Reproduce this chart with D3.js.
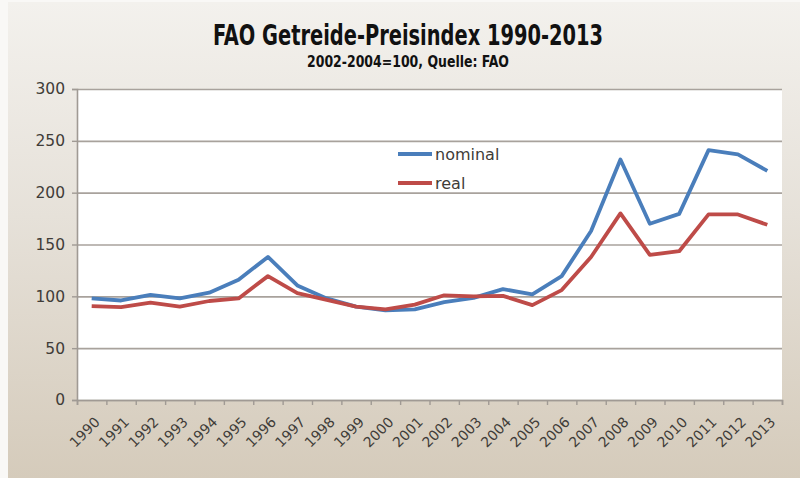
<!DOCTYPE html>
<html>
<head>
<meta charset="utf-8">
<script src="https://cdn.jsdelivr.net/npm/d3@7"></script>
<style>
body { margin: 0; background: #ffffff; }
svg { display: block; }
</style>
</head>
<body>
<div id="divcont"></div>
<script>
var years = ["1990","1991","1992","1993","1994","1995","1996","1997","1998","1999","2000","2001",
  "2002","2003","2004","2005","2006","2007","2008","2009","2010","2011","2012","2013"]
var nominal = [98, 96, 101.5, 98, 103.5, 116, 138, 110.5, 98, 90, 86.5, 87.5,
  94.5, 98.5, 107, 102, 119.5, 163, 232, 170, 179.5, 241, 237, 221]
var real = [90.5, 89.5, 94, 90, 95.5, 98, 119.5, 103, 96.5, 90, 87.5, 92,
  101, 100, 100.5, 91.5, 106, 138, 180, 140, 143.5, 179, 179, 169]
var yTicks = [0, 50, 100, 150, 200, 250, 300]
var seriesNames = ["nominal", "real"]
var seriesCols = ["#4a7ebb", "#be4b48"]

var wd = 800
var ht = 478
var pLeft = 77, pRight = 782, pTop = 89, pBottom = 400 // plot area

var svg = d3.select("#divcont")
  .append("svg")
  .attr("width", wd)
  .attr("height", ht)

var defs = svg.append("defs")
var grad = defs.append("linearGradient")
  .attr("id", "bg")
  .attr("x1", 0).attr("y1", 0).attr("x2", 0).attr("y2", 1)
grad.append("stop").attr("offset", "0%").attr("stop-color", "#f3f1ed")
grad.append("stop").attr("offset", "45%").attr("stop-color", "#e6e1d9")
grad.append("stop").attr("offset", "100%").attr("stop-color", "#d5cbbb")

svg.append("rect")
  .attr("width", wd).attr("height", ht)
  .attr("fill", "#f9f8f6")
svg.append("rect")
  .attr("x", 8).attr("y", 2)
  .attr("width", wd - 8).attr("height", ht - 2)
  .attr("fill", "url(#bg)")

// plot area
svg.append("rect")
  .attr("x", pLeft).attr("y", pTop)
  .attr("width", pRight - pLeft).attr("height", pBottom - pTop)
  .attr("fill", "#ffffff")

var xBand = d3.scaleBand()
  .domain(years)
  .range([pLeft, pRight])

var xEdge = d3.scaleLinear()
  .domain([0, years.length])
  .range([pLeft, pRight])

var yScale = d3.scaleLinear()
  .domain([0, 300])
  .range([pBottom, pTop])

// gridlines
svg.append("g")
  .attr("class", "grid")
  .attr("transform", "translate(" + pLeft + ",0)")
  .call(d3.axisLeft(yScale).tickValues(yTicks).tickSize(-(pRight - pLeft)).tickFormat(""))
  .call(function(g) { g.select(".domain").remove() })
  .selectAll("line")
  .attr("stroke", "#a8a29c")
  .attr("stroke-width", 1.6)

// y axis
var yAx = svg.append("g")
  .attr("class", "axis y_axis")
  .attr("transform", "translate(" + pLeft + ",0)")
  .call(d3.axisLeft(yScale).tickValues(yTicks).tickSize(5).tickPadding(7))
yAx.select(".domain").attr("stroke", "#a09a94").attr("stroke-width", 1.6)
yAx.selectAll("line").attr("stroke", "#a09a94").attr("stroke-width", 1.4)
yAx.selectAll("text")
  .style("font-family", "'DejaVu Sans', sans-serif")
  .style("font-size", "15.5px")
  .attr("fill", "#403c38")

// x axis tick marks at category edges
var xTk = svg.append("g")
  .attr("class", "axis x_ticks")
  .attr("transform", "translate(0," + pBottom + ")")
  .call(d3.axisBottom(xEdge).ticks(years.length).tickSize(5).tickFormat(""))
xTk.select(".domain").attr("stroke", "#a09a94").attr("stroke-width", 1.6)
xTk.selectAll("line").attr("stroke", "#a09a94").attr("stroke-width", 1.4)

// x axis labels
var xAx = svg.append("g")
  .attr("class", "axis x_axis")
  .attr("transform", "translate(0," + pBottom + ")")
  .call(d3.axisBottom(xBand).tickSize(0).tickPadding(0))
xAx.select(".domain").remove()
xAx.selectAll("text")
  .style("font-family", "'DejaVu Sans', sans-serif")
  .style("font-size", "14px")
  .attr("fill", "#403c38")
  .attr("text-anchor", "end")
  .attr("dy", 0)
  .attr("y", 0)
  .attr("transform", "translate(9,23) rotate(-45)")

// lines
var line = d3.line()
  .x(function(d, i) { return xBand(years[i]) + xBand.bandwidth() / 2 })
  .y(function(d) { return yScale(d) })

var series = [nominal, real]
series.forEach(function(s, j) {
  svg.append("path")
    .datum(s)
    .attr("fill", "none")
    .attr("stroke", seriesCols[j])
    .attr("stroke-width", 3.8)
    .attr("stroke-linejoin", "round")
    .attr("d", line)
})

// legend
var leg = svg.selectAll(".leg")
  .data(seriesNames)
  .enter()
  .append("g")
  .attr("class", "leg")
  .attr("transform", function(d, i) { return "translate(398," + (154 + i * 29) + ")" })
leg.append("line")
  .attr("x1", 0).attr("x2", 34)
  .attr("stroke", function(d, i) { return seriesCols[i] })
  .attr("stroke-width", 3.8)
leg.append("text")
  .attr("x", 37)
  .attr("dy", "0.35em")
  .text(function(d) { return d })
  .style("font-family", "'DejaVu Sans', sans-serif")
  .style("font-size", "16px")
  .attr("fill", "#403c38")

// titles
svg.append("text")
  .attr("x", 408).attr("y", 45)
  .attr("text-anchor", "middle")
  .attr("textLength", 390)
  .attr("lengthAdjust", "spacingAndGlyphs")
  .text("FAO Getreide-Preisindex 1990-2013")
  .style("font-family", "'DejaVu Sans Condensed', 'DejaVu Sans', sans-serif")
  .style("font-stretch", "condensed")
  .style("font-weight", "bold")
  .style("font-size", "28px")
  .attr("fill", "#111111")

svg.append("text")
  .attr("x", 408).attr("y", 67)
  .attr("text-anchor", "middle")
  .attr("textLength", 202)
  .attr("lengthAdjust", "spacingAndGlyphs")
  .text("2002-2004=100, Quelle: FAO")
  .style("font-family", "'DejaVu Sans Condensed', 'DejaVu Sans', sans-serif")
  .style("font-stretch", "condensed")
  .style("font-weight", "bold")
  .style("font-size", "15px")
  .attr("fill", "#111111")
</script>
</body>
</html>
